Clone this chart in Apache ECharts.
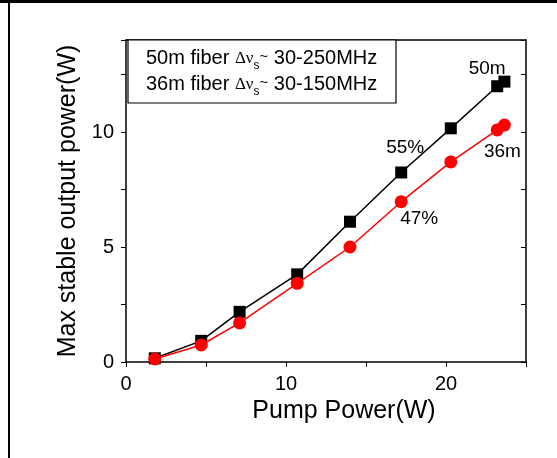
<!DOCTYPE html>
<html>
<head>
<meta charset="utf-8">
<script src="https://cdn.jsdelivr.net/npm/echarts@6/dist/echarts.min.js"></script>
<style>
  html, body { margin: 0; padding: 0; background: #fff; }
  #chart { width: 557px; height: 458px; }
</style>
</head>
<body>
<div id="chart"></div>
<script>
// pump power (W)
var pump = [1.8, 4.7, 7.1, 10.7, 14.0, 17.2, 20.3, 23.2, 23.65];
// max stable output power (W)
var out50 = [0.16, 0.92, 2.18, 3.81, 6.10, 8.24, 10.16, 11.99, 12.19];
var out36 = [0.13, 0.74, 1.70, 3.42, 5.00, 6.97, 8.70, 10.09, 10.30];
var legendLines = ['50m fiber', '36m fiber'];
var legendRanges = ['30-250MHz', '30-150MHz'];
// text notes hung on points: [index, text]
var notes50 = [[5, '55%'], [7, '50m']];
var notes36 = [[5, '47%'], [8, '36m']];

var font = 'Liberation Sans, Arial, sans-serif';

function buildData(xs, ys, notes, places) {
	var arr = [];
	for (var i = 0; i < xs.length; i++) {
		arr.push({ value: [xs[i], ys[i]] });
	}
	for (var j = 0; j < notes.length; j++) {
		var k = notes[j][0];
		arr[k].label = {
			show: true,
			formatter: notes[j][1],
			position: places[j].pos,
			offset: places[j].off,
			color: '#000',
			fontSize: 19,
			fontFamily: font
		};
	}
	return arr;
}

var chart = echarts.init(document.getElementById('chart'));

var legendRich = {
	t: { fontSize: 20, fontFamily: font, color: '#000' },
	g: { fontSize: 17, fontFamily: 'Liberation Serif, serif', color: '#000' },
	s: { fontSize: 12, fontFamily: font, color: '#000', padding: [15, 0, 0, 0] },
	w: { fontSize: 15, fontFamily: font, color: '#000', padding: [0, 0, 4, 0] }
};

var option = {
	backgroundColor: '#fff',
	animation: false,
	grid: { left: 126, top: 40, width: 400, height: 322 },
	xAxis: [{
		type: 'value',
		min: 0, max: 25, interval: 5,
		name: 'Pump Power(W)',
		nameLocation: 'middle',
		nameGap: 28,
		nameTextStyle: { fontSize: 25, fontFamily: font, color: '#000', padding: [0, 0, 0, 36] },
		axisLine: { lineStyle: { color: '#000', width: 1.5 } },
		axisTick: { inside: false, length: 5, lineStyle: { color: '#000' } },
		axisLabel: {
			margin: 12, fontSize: 20, fontFamily: font, color: '#000',
			formatter: function (v) { return v % 10 === 0 ? v : ''; }
		},
		splitLine: { show: false }
	}, {
		type: 'value', position: 'top',
		min: 0, max: 25, interval: 5,
		axisLine: { onZero: false, lineStyle: { color: '#000', width: 1.5 } },
		axisTick: { show: false },
		axisLabel: { show: false },
		splitLine: { show: false }
	}],
	yAxis: [{
		type: 'value',
		min: 0, max: 14, interval: 2.5,
		name: 'Max stable output power(W)',
		nameLocation: 'middle',
		nameGap: 36,
		nameTextStyle: { fontSize: 25, fontFamily: font, color: '#000' },
		axisLine: { show: true, lineStyle: { color: '#000', width: 1.5 } },
		axisTick: { show: true, inside: false, length: 5, lineStyle: { color: '#000' } },
		axisLabel: {
			margin: 12, fontSize: 20, fontFamily: font, color: '#000',
			formatter: function (v) { return v % 5 === 0 ? v : ''; }
		},
		splitLine: { show: false }
	}, {
		type: 'value', position: 'right',
		min: 0, max: 14, interval: 2.5,
		axisLine: { show: true, onZero: false, lineStyle: { color: '#000', width: 1.5 } },
		axisTick: { show: true, inside: true, length: 5, lineStyle: { color: '#000' } },
		axisLabel: { show: false },
		splitLine: { show: false }
	}],
	series: [{
		name: '50m',
		type: 'line',
		symbol: 'rect',
		symbolSize: 12,
		itemStyle: { color: '#000' },
		lineStyle: { color: '#000', width: 1.5 },
		z: 3,
		data: buildData(pump, out50, notes50, [
			{ pos: 'top', off: [4, -4] },
			{ pos: 'top', off: [-10, 3] }
		])
	}, {
		name: '36m',
		type: 'line',
		symbol: 'circle',
		symbolSize: 13,
		itemStyle: { color: '#ff0000' },
		lineStyle: { color: '#ff0000', width: 1.5 },
		z: 4,
		data: buildData(pump, out36, notes36, [
			{ pos: 'bottom', off: [18, -4] },
			{ pos: 'bottom', off: [-2, 6] }
		])
	}],
	graphic: [{
		type: 'rect',
		shape: { x: 128, y: 40, width: 268, height: 63 },
		style: { fill: '#fff', stroke: '#000', lineWidth: 1.2 },
		z: 10
	}, {
		type: 'text', x: 146, y: 45, z: 11,
		style: {
			text: '{t|' + legendLines[0] + ' }{g|Δν}{s|s}{w|~}{t| ' + legendRanges[0] + '}',
			rich: legendRich
		}
	}, {
		type: 'text', x: 146, y: 71, z: 11,
		style: {
			text: '{t|' + legendLines[1] + ' }{g|Δν}{s|s}{w|~}{t| ' + legendRanges[1] + '}',
			rich: legendRich
		}
	}, {
		// outer frame
		type: 'rect', shape: { x: 0, y: 0, width: 557, height: 3 },
		style: { fill: '#000' }, z: 20
	}, {
		type: 'rect', shape: { x: 8, y: 0, width: 2, height: 458 },
		style: { fill: '#000' }, z: 20
	}]
};

chart.setOption(option);
</script>
</body>
</html>
